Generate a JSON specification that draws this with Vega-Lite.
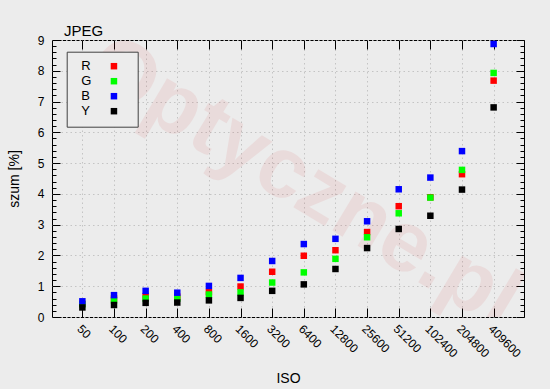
{
  "$schema": "https://vega.github.io/schema/vega-lite/v6.json",
  "width": 472,
  "height": 277,
  "autosize": {"type": "none"},
  "padding": {"left": 52, "top": 40, "right": 26, "bottom": 72},
  "background": "#ececec",
  "config": {
    "view": {"stroke": "#000000", "strokeWidth": 1},
    "font": "Liberation Sans",
    "axis": {
      "domain": false,
      "tickColor": "#000000",
      "tickWidth": 1,
      "labelColor": "#000000",
      "labelFont": "Liberation Sans",
      "labelFontSize": 12,
      "titleFont": "Liberation Sans",
      "titleFontSize": 14,
      "titleFontWeight": "normal",
      "titleColor": "#000000",
      "gridColor": "#c4c4c4",
      "gridDash": [1.5, 3],
      "gridWidth": 1
    }
  },
  "title": {
    "text": "JPEG",
    "anchor": "start",
    "frame": "group",
    "dx": 12,
    "offset": -5,
    "font": "Liberation Sans",
    "fontSize": 15,
    "fontWeight": "normal",
    "color": "#000000"
  },
  "data": {
    "values": [
      {"iso": "50", "ch": "R", "v": 0.43}, {"iso": "100", "ch": "R", "v": 0.60}, {"iso": "200", "ch": "R", "v": 0.68},
      {"iso": "400", "ch": "R", "v": 0.66}, {"iso": "800", "ch": "R", "v": 0.81}, {"iso": "1600", "ch": "R", "v": 0.99},
      {"iso": "3200", "ch": "R", "v": 1.47}, {"iso": "6400", "ch": "R", "v": 1.99}, {"iso": "12800", "ch": "R", "v": 2.17},
      {"iso": "25600", "ch": "R", "v": 2.76}, {"iso": "51200", "ch": "R", "v": 3.60}, {"iso": "102400", "ch": "R", "v": 3.89},
      {"iso": "204800", "ch": "R", "v": 4.64}, {"iso": "409600", "ch": "R", "v": 7.68},
      {"iso": "50", "ch": "G", "v": 0.41}, {"iso": "100", "ch": "G", "v": 0.54}, {"iso": "200", "ch": "G", "v": 0.60},
      {"iso": "400", "ch": "G", "v": 0.60}, {"iso": "800", "ch": "G", "v": 0.73}, {"iso": "1600", "ch": "G", "v": 0.80},
      {"iso": "3200", "ch": "G", "v": 1.12}, {"iso": "6400", "ch": "G", "v": 1.45}, {"iso": "12800", "ch": "G", "v": 1.89},
      {"iso": "25600", "ch": "G", "v": 2.59}, {"iso": "51200", "ch": "G", "v": 3.37}, {"iso": "102400", "ch": "G", "v": 3.88},
      {"iso": "204800", "ch": "G", "v": 4.78}, {"iso": "409600", "ch": "G", "v": 7.93},
      {"iso": "50", "ch": "B", "v": 0.51}, {"iso": "100", "ch": "B", "v": 0.71}, {"iso": "200", "ch": "B", "v": 0.85},
      {"iso": "400", "ch": "B", "v": 0.79}, {"iso": "800", "ch": "B", "v": 1.01}, {"iso": "1600", "ch": "B", "v": 1.27},
      {"iso": "3200", "ch": "B", "v": 1.82}, {"iso": "6400", "ch": "B", "v": 2.37}, {"iso": "12800", "ch": "B", "v": 2.54},
      {"iso": "25600", "ch": "B", "v": 3.11}, {"iso": "51200", "ch": "B", "v": 4.15}, {"iso": "102400", "ch": "B", "v": 4.53},
      {"iso": "204800", "ch": "B", "v": 5.39}, {"iso": "409600", "ch": "B", "v": 8.87},
      {"iso": "50", "ch": "Y", "v": 0.31}, {"iso": "100", "ch": "Y", "v": 0.39}, {"iso": "200", "ch": "Y", "v": 0.46},
      {"iso": "400", "ch": "Y", "v": 0.47}, {"iso": "800", "ch": "Y", "v": 0.54}, {"iso": "1600", "ch": "Y", "v": 0.62},
      {"iso": "3200", "ch": "Y", "v": 0.85}, {"iso": "6400", "ch": "Y", "v": 1.06}, {"iso": "12800", "ch": "Y", "v": 1.56},
      {"iso": "25600", "ch": "Y", "v": 2.24}, {"iso": "51200", "ch": "Y", "v": 2.86}, {"iso": "102400", "ch": "Y", "v": 3.29},
      {"iso": "204800", "ch": "Y", "v": 4.14}, {"iso": "409600", "ch": "Y", "v": 6.81}
    ]
  },
  "layer": [
    {
      "data": {"values": [{"label": "Optyczne.pl"}]},
      "mark": {
        "type": "text",
        "clip": true,
        "angle": 31,
        "font": "Liberation Sans",
        "fontWeight": "bold",
        "fontSize": 86,
        "color": "#d02020",
        "opacity": 0.08,
        "align": "center",
        "baseline": "middle"
      },
      "encoding": {
        "text": {"field": "label", "type": "nominal"},
        "x": {
          "datum": "6400",
          "type": "ordinal",
          "scale": {"type": "point", "padding": 0.96, "domain": ["50", "100", "200", "400", "800", "1600", "3200", "6400", "12800", "25600", "51200", "102400", "204800", "409600"]},
          "axis": {"orient": "top", "title": null, "labels": false, "tickSize": -9, "grid": false}
        },
        "y": {
          "datum": 4.35,
          "type": "quantitative",
          "scale": {"domain": [0, 9], "nice": false, "zero": true},
          "axis": {
            "orient": "right",
            "title": null,
            "labels": false,
            "grid": false,
            "values": [0, 0.2, 0.4, 0.6, 0.8, 1, 1.2, 1.4, 1.6, 1.8, 2, 2.2, 2.4, 2.6, 2.8, 3, 3.2, 3.4, 3.6, 3.8, 4, 4.2, 4.4, 4.6, 4.8, 5, 5.2, 5.4, 5.6, 5.8, 6, 6.2, 6.4, 6.6, 6.8, 7, 7.2, 7.4, 7.6, 7.8, 8, 8.2, 8.4, 8.6, 8.8, 9],
            "tickSize": {"condition": {"test": "datum.value % 1 === 0", "value": -8}, "value": -4}
          }
        }
      }
    },
    {
      "mark": {"type": "point", "shape": "square", "filled": true, "size": 42, "opacity": 1},
      "encoding": {
        "x": {
          "field": "iso",
          "type": "ordinal",
          "scale": {"type": "point", "padding": 0.96, "domain": ["50", "100", "200", "400", "800", "1600", "3200", "6400", "12800", "25600", "51200", "102400", "204800", "409600"]},
          "axis": {
            "orient": "bottom",
            "title": "ISO",
            "labelAngle": 45,
            "labelAlign": "left",
            "labelBaseline": "top",
            "labelPadding": 15,
            "tickSize": -9,
            "grid": true,
            "titlePadding": 12
          }
        },
        "y": {
          "field": "v",
          "type": "quantitative",
          "scale": {"domain": [0, 9], "nice": false, "zero": true},
          "axis": {
            "orient": "left",
            "title": "szum [%]",
            "values": [0, 0.2, 0.4, 0.6, 0.8, 1, 1.2, 1.4, 1.6, 1.8, 2, 2.2, 2.4, 2.6, 2.8, 3, 3.2, 3.4, 3.6, 3.8, 4, 4.2, 4.4, 4.6, 4.8, 5, 5.2, 5.4, 5.6, 5.8, 6, 6.2, 6.4, 6.6, 6.8, 7, 7.2, 7.4, 7.6, 7.8, 8, 8.2, 8.4, 8.6, 8.8, 9],
            "labelExpr": "datum.value % 1 === 0 ? format(datum.value, 'd') : ''",
            "labelOverlap": false,
            "labelPadding": 16,
            "tickSize": {"condition": {"test": "datum.value % 1 === 0", "value": -8}, "value": -4},
            "grid": true,
            "gridOpacity": {"condition": {"test": "datum.value % 1 !== 0", "value": 0}, "value": 1},
            "titlePadding": 16
          }
        },
        "color": {
          "field": "ch",
          "type": "nominal",
          "scale": {"domain": ["R", "G", "B", "Y"], "range": ["#ff0000", "#00ff00", "#0000ff", "#000000"]},
          "legend": {
            "orient": "none",
            "legendX": 14.7,
            "legendY": 11.7,
            "title": " ",
            "titleOrient": "right",
            "titlePadding": 13,
            "strokeColor": "#404040",
            "fillColor": "#ececec",
            "padding": 8,
            "rowPadding": 1,
            "symbolType": "square",
            "symbolSize": 42,
            "symbolStrokeWidth": 0,
            "symbolOffset": 32.75,
            "labelOffset": -39.25,
            "labelFont": "Liberation Sans",
            "labelFontSize": 13,
            "labelColor": "#000000"
          }
        }
      }
    }
  ],
  "resolve": {"axis": {"x": "independent", "y": "independent"}}
}
